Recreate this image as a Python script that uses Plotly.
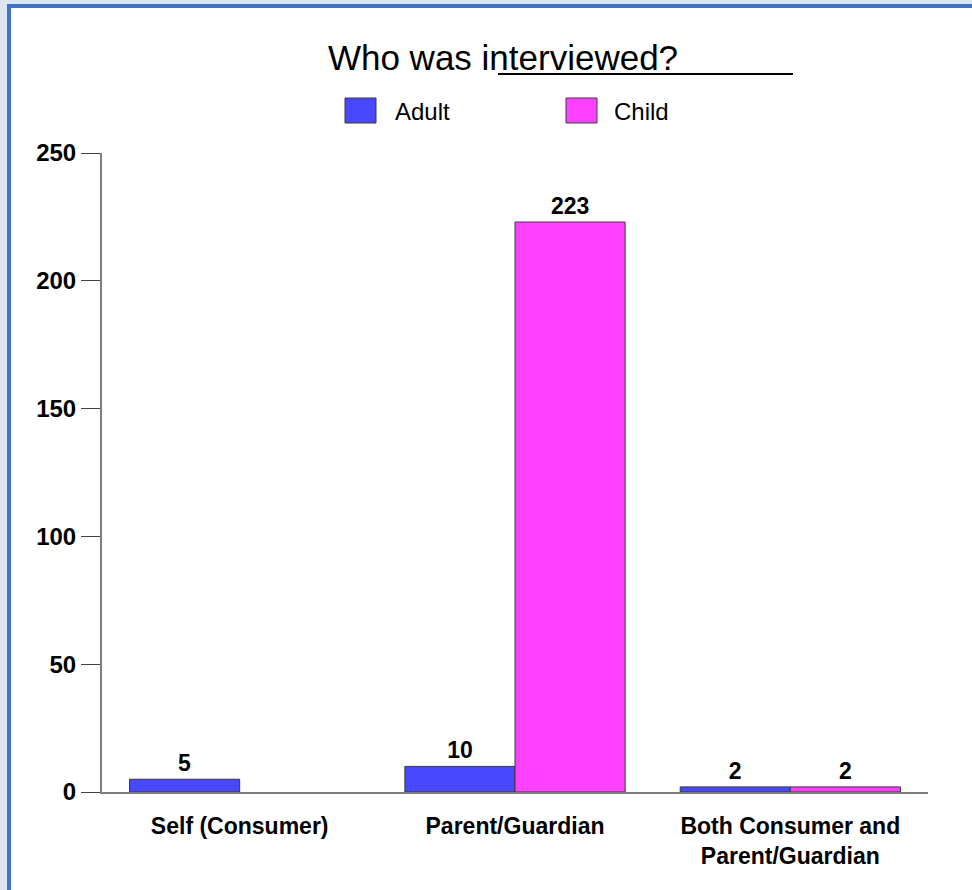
import plotly.graph_objects as go

categories = ["Self (Consumer)", "Parent/Guardian", "Both Consumer and<br>Parent/Guardian"]
series_names = ["Adult", "Child"]
adult_values = [5, 10, 2]
child_values = [None, 223, 2]
y_ticks = [0, 50, 100, 150, 200, 250]
title_text = "Who was interviewed?"

colors = ["#4848FF", "#FF40FF"]
FONT = "Liberation Sans, Arial, sans-serif"

W, H = 972, 890
L, R, T, B = 102, 44, 153, 98
PW, PH = W - L - R, H - T - B


def px_x(px):
    return (px - L) / PW


def px_y(py):
    return (H - B - py) / PH


fig = go.Figure()
for name, vals, col in zip(series_names, [adult_values, child_values], colors):
    fig.add_trace(go.Bar(
        x=categories, y=vals, name=name,
        marker=dict(color=col, line=dict(color="#3a3a3a", width=1)),
        text=[("" if v is None else str(v)) for v in vals],
        textposition="outside",
        textfont=dict(family=FONT, size=23, color="black", weight="bold"),
        cliponaxis=False,
        showlegend=False,
    ))

shapes = []
# page border decoration
shapes.append(dict(type="rect", xref="paper", yref="paper", x0=px_x(0), x1=px_x(7), y0=px_y(H), y1=px_y(0),
                   fillcolor="#DCE6F2", line=dict(width=0), layer="below"))
shapes.append(dict(type="rect", xref="paper", yref="paper", x0=px_x(0), x1=px_x(W), y0=px_y(4), y1=px_y(0),
                   fillcolor="#DCE6F2", line=dict(width=0), layer="below"))
shapes.append(dict(type="rect", xref="paper", yref="paper", x0=px_x(7), x1=px_x(11), y0=px_y(H), y1=px_y(4),
                   fillcolor="#4472C4", line=dict(width=0), layer="below"))
shapes.append(dict(type="rect", xref="paper", yref="paper", x0=px_x(7), x1=px_x(W), y0=px_y(8), y1=px_y(4),
                   fillcolor="#4472C4", line=dict(width=0), layer="below"))
# title underline
shapes.append(dict(type="line", xref="paper", yref="paper", x0=px_x(498), x1=px_x(793), y0=px_y(74), y1=px_y(74),
                   line=dict(color="black", width=2)))

annotations = []
# legend (drawn as boxes + labels)
legend_pos = [(345, 393), (566, 612)]
for (bx, tx), name, col in zip(legend_pos, series_names, colors):
    shapes.append(dict(type="rect", xref="paper", yref="paper", x0=px_x(bx), x1=px_x(bx + 31),
                       y0=px_y(123), y1=px_y(98), fillcolor=col, line=dict(color="#3a3a3a", width=1)))
    annotations.append(dict(text=name, xref="paper", yref="paper", x=px_x(tx), y=px_y(112),
                            xanchor="left", yanchor="middle", showarrow=False,
                            font=dict(family=FONT, size=24, color="black")))

fig.update_layout(
    width=W, height=H,
    margin=dict(l=L, r=R, t=T, b=B, autoexpand=False),
    paper_bgcolor="white", plot_bgcolor="white",
    barmode="group", bargap=0.2, bargroupgap=0,
    title=dict(text=title_text, x=503 / W, xref="container", xanchor="center",
               y=1 - 58 / H, yref="container", yanchor="middle",
               font=dict(family=FONT, size=35, color="black")),
    shapes=shapes, annotations=annotations,
    showlegend=False,
)
fig.update_yaxes(range=[0, 250], tickvals=y_ticks, ticks="outside", ticklen=19, tickwidth=1,
                 tickcolor="#404040", showgrid=False, zeroline=False,
                 showline=True, linecolor="#7f7f7f", linewidth=2,
                 tickfont=dict(family=FONT, size=24, color="black", weight="bold"))
fig.update_xaxes(showline=True, linecolor="#7f7f7f", linewidth=2, ticks="", showgrid=False,
                 ticklabelstandoff=12,
                 tickfont=dict(family=FONT, size=23, color="black", weight="bold"))

fig.write_html("out.html")
